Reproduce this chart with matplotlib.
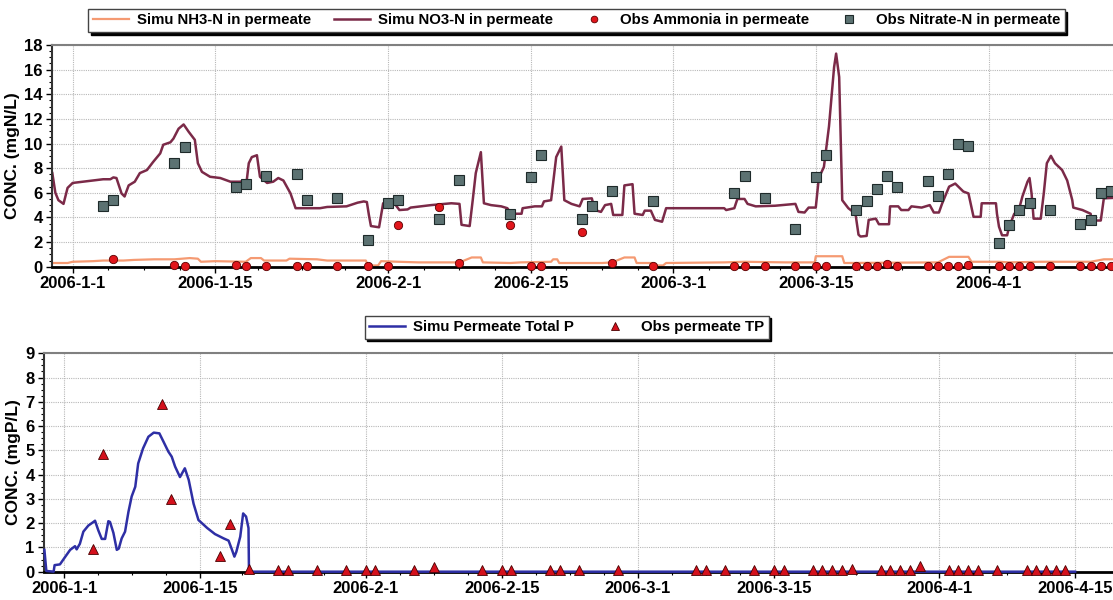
import numpy as np
import matplotlib
matplotlib.use("Agg")
import matplotlib.pyplot as plt
import matplotlib.dates as mdates
from matplotlib.ticker import FixedLocator, FuncFormatter, MultipleLocator

plt.rcParams["font.family"] = ["Liberation Sans", "DejaVu Sans"]
plt.rcParams["font.weight"] = "bold"

# day offsets are counted from 2006-01-01
START = np.datetime64("2006-01-01")

# --- top panel: nitrogen ---
no3_days = [-2.0, -1.7, -1.4, -0.9, -0.5, 0.0, 1.0, 2.0, 3.0, 3.7, 4.0, 4.3, 4.8, 5.1, 5.5, 6.1,
            6.6, 7.3, 7.9, 8.6, 8.9, 9.6, 9.9, 10.4, 10.9, 11.4, 12.0, 12.3, 12.7, 13.5, 14.5,
            15.5, 16.4, 17.1, 17.3, 17.6, 18.1, 18.4, 19.1, 19.7, 20.2, 20.7, 21.4, 21.9, 24.3,
            25.0, 26.9, 28.0, 28.6, 28.9, 29.1, 29.3, 30.1, 30.5, 31.3, 31.6, 32.1, 32.9, 33.2,
            35.2, 37.2, 38.0, 38.2, 39.0, 39.3, 39.6, 40.1, 40.4, 41.1, 42.1, 42.7, 43.1, 44.1,
            44.2, 45.4, 46.1, 46.3, 47.0, 47.5, 48.0, 48.3, 49.0, 49.8, 50.1, 51.0, 51.3, 51.9,
            52.3, 52.9, 53.1, 54.0, 54.2, 55.0, 55.2, 56.0, 56.2, 56.8, 57.2, 57.9, 58.3, 64.0,
            64.2, 65.0, 65.3, 66.0, 66.3, 67.1, 69.0, 71.0, 71.3, 71.9, 72.3, 73.0, 73.3, 73.8,
            74.3, 74.8, 75.0, 75.3, 75.6, 76.2, 76.9, 77.2, 77.4, 78.0, 78.2, 78.9, 79.2, 80.2,
            80.3, 81.1, 81.4, 82.1, 82.4, 83.4, 84.2, 84.6, 85.1, 85.4, 86.1, 86.7, 87.2, 87.5,
            88.0, 88.5, 89.2, 89.3, 90.7, 90.8, 91.0, 91.3, 91.8, 92.0, 92.5, 92.9, 93.3, 93.8,
            94.0, 94.2, 94.4, 95.1, 95.4, 95.7, 96.1, 96.5, 97.2, 97.7, 98.2, 98.3, 99.2, 100.0,
            100.1, 101.0, 101.3, 102.5, 103.0]
no3_vals = [7.6, 6.0, 5.4, 5.1, 6.4, 6.8, 6.9, 7.0, 7.1, 7.1, 7.25, 7.2, 5.95, 5.7, 6.6, 6.9,
            7.6, 7.85, 8.5, 9.2, 9.9, 10.1, 10.4, 11.2, 11.55, 10.95, 10.3, 8.4, 7.7, 7.3, 7.2,
            6.9, 6.9, 7.0, 8.4, 8.9, 9.05, 7.3, 6.8, 6.9, 7.2, 7.0, 5.95, 4.75, 4.75,
            4.85, 4.9, 5.2, 5.3, 5.25, 4.2, 3.3, 3.2, 5.15, 5.2, 5.15, 4.6, 4.65, 4.8,
            5.0, 5.15, 5.1, 3.4, 3.3, 5.4, 7.6, 9.3, 5.15, 5.0, 4.9, 4.75, 4.3, 4.3,
            4.75, 4.9, 4.9, 5.3, 5.4, 8.9, 9.75, 5.4, 5.1, 4.9, 5.5, 5.55, 4.6, 4.45,
            5.0, 5.1, 4.2, 4.2, 6.6, 6.7, 4.3, 4.2, 4.55, 4.55, 3.8, 3.65, 4.75, 4.75,
            4.6, 4.75, 5.5, 5.5, 5.1, 4.9, 4.95, 5.1, 4.45, 4.4, 4.8, 4.8, 7.2, 8.1,
            11.4, 16.2, 17.3, 15.4, 5.4, 4.75, 4.3, 2.6, 2.45, 2.5, 3.8, 3.9, 3.45, 3.45,
            4.9, 4.9, 4.6, 4.6, 4.9, 4.8, 5.0, 4.4, 4.4, 5.1, 6.5, 6.75, 6.35, 6.1,
            5.95, 4.05, 4.05, 5.15, 5.15, 4.3, 3.25, 2.55, 2.55, 3.25, 4.3, 4.45, 5.7, 6.9,
            7.2, 5.95, 3.9, 3.9, 5.95, 8.4, 9.0, 8.4, 7.85, 7.0, 5.4, 4.8, 4.6, 4.3,
            3.75, 3.75, 5.55, 5.6, 5.6]

nh3_days = [-2.0, -0.5, 0.0, 2.0, 3.0, 5.0, 6.0, 8.0, 10.0, 11.5, 12.3, 12.6, 14.0, 17.0, 17.5,
            18.5, 18.8, 21.0, 21.3, 24.0, 25.0, 28.8, 29.0, 30.0, 30.3, 32.0, 34.0, 38.0, 39.2,
            40.1, 40.3, 43.0, 44.0, 47.0, 47.2, 47.6, 47.8, 52.0, 53.0, 54.2, 55.2, 55.4, 57.0,
            57.3, 58.0, 58.3, 64.0, 66.0, 70.0, 72.9, 73.0, 75.6, 75.8, 85.0, 86.1, 88.0, 88.3,
            91.0, 92.0, 95.0, 100.0, 101.3, 103.0]
nh3_vals = [0.3, 0.3, 0.4, 0.45, 0.5, 0.5, 0.55, 0.6, 0.6, 0.7, 0.65, 0.4, 0.45, 0.4, 0.7,
            0.7, 0.5, 0.5, 0.65, 0.6, 0.5, 0.5, 0.1, 0.1, 0.45, 0.4, 0.35, 0.35, 0.75,
            0.75, 0.35, 0.3, 0.35, 0.4, 0.6, 0.6, 0.3, 0.3, 0.35, 0.75, 0.75, 0.3, 0.3,
            0.1, 0.1, 0.3, 0.35, 0.4, 0.35, 0.35, 0.85, 0.85, 0.3, 0.35, 0.8, 0.8, 0.4,
            0.4, 0.35, 0.4, 0.4, 0.6, 0.6]

amm_days = [4, 10, 11, 16, 17, 19, 22, 23, 26, 29, 31, 32, 36, 38, 43, 45, 46, 50, 53, 57, 65,
            66, 68, 71, 73, 74, 77, 78, 79, 80, 81, 84, 85, 86, 87, 88, 91, 92, 93, 94, 96, 99,
            100, 101, 102]
amm_vals = [0.6, 0.1, 0.05, 0.1, 0.05, 0.05, 0.05, 0.05, 0.05, 0.05, 0.05, 3.4, 4.85, 0.3, 3.4,
            0.05, 0.05, 2.8, 0.3, 0.05, 0.05, 0.05, 0.05, 0.05, 0.05, 0.05, 0.05, 0.05, 0.05,
            0.2, 0.05, 0.05, 0.05, 0.05, 0.05, 0.15, 0.05, 0.05, 0.05, 0.05, 0.05, 0.05, 0.05,
            0.05, 0.05]

nit_days = [3, 4, 10, 11, 16, 17, 19, 22, 23, 26, 29, 31, 32, 36, 38, 43, 45, 46, 50, 51, 53, 57,
            65, 66, 68, 71, 73, 74, 77, 78, 79, 80, 81, 84, 85, 86, 87, 88, 91, 92, 93, 94, 96,
            99, 100, 101, 102]
nit_vals = [4.95, 5.45, 8.45, 9.7, 6.45, 6.75, 7.35, 7.5, 5.4, 5.55, 2.2, 5.15, 5.4, 3.9, 7.05,
            4.3, 7.25, 9.1, 3.9, 4.95, 6.15, 5.3, 5.95, 7.35, 5.55, 3.1, 7.25, 9.1, 4.6, 5.3,
            6.3, 7.35, 6.5, 6.95, 5.75, 7.5, 9.95, 9.8, 1.95, 3.35, 4.6, 5.2, 4.6, 3.5, 3.8,
            5.95, 6.15]

# --- bottom panel: phosphorus ---
tp_days = [-2.05, -1.85, -1.1, -1.0, -0.45, 0.07, 0.6, 1.1, 1.27, 1.6, 1.96, 2.47, 3.0, 3.16,
           3.5, 3.85, 4.2, 4.53, 4.7, 5.05, 5.4, 5.6, 5.9, 6.25, 6.6, 6.93, 7.3, 7.6, 8.1, 8.65,
           9.2, 9.78, 10.2, 10.7, 11.05, 11.4, 11.9, 12.4, 12.8, 13.3, 13.8, 14.7, 15.5, 16.4,
           16.9, 17.2, 17.5, 17.7, 18.1, 18.4, 18.7, 18.95, 19.0, 104.0]
tp_vals = [0.9, 0.03, 0.0, 0.27, 0.3, 0.6, 0.9, 1.05, 0.92, 1.15, 1.65, 1.9, 2.05, 2.1,
           1.7, 1.35, 1.35, 2.08, 2.05, 1.6, 0.9, 0.95, 1.37, 1.65, 2.47, 3.1, 3.5, 4.46, 5.08, 5.56,
           5.73, 5.7, 5.36, 4.95, 4.74, 4.33, 3.9, 4.26, 3.78, 2.8, 2.13, 1.8, 1.55, 1.37,
           1.28, 0.96, 0.62, 0.82, 1.44, 2.4, 2.27, 1.8, 0.0, 0.0]

tp_obs_days = [3, 4, 10, 11, 16, 17, 19, 22, 23, 26, 29, 31, 32, 36, 38, 43, 45, 46, 50, 51, 53,
               57, 65, 66, 68, 71, 73, 74, 77, 78, 79, 80, 81, 84, 85, 86, 87, 88, 91, 92, 93,
               94, 96, 99, 100, 101, 102, 103]
tp_obs_vals = [0.92, 4.85, 6.9, 2.98, 0.65, 1.96, 0.1, 0.06, 0.06, 0.06, 0.06, 0.06, 0.06, 0.06,
               0.2, 0.06, 0.06, 0.06, 0.06, 0.06, 0.06, 0.06, 0.06, 0.06, 0.06, 0.06, 0.06,
               0.06, 0.06, 0.06, 0.06, 0.06, 0.1, 0.06, 0.06, 0.06, 0.06, 0.25, 0.06, 0.06, 0.06,
               0.06, 0.06, 0.06, 0.06, 0.06, 0.06, 0.06]

top_ticks = ["2006-01-01", "2006-01-15", "2006-02-01", "2006-02-15", "2006-03-01",
             "2006-03-15", "2006-04-01"]
bottom_ticks = top_ticks + ["2006-04-15"]


def to_num(days):
    return mdates.date2num(START) + np.asarray(days, dtype=float)


def date_label(v, pos):
    d = mdates.num2date(v)
    return f"{d.year}-{d.month}-{d.day}"


def style_axes(ax, ticks, xlim_days, ymax, ystep, yminor, ylabel):
    major = mdates.date2num(np.array(ticks, dtype="datetime64[D]"))
    minor = []
    for a, b in zip(major[:-1], major[1:]):
        minor.extend(np.linspace(a, b, 5)[1:-1])
    ax.xaxis.set_major_locator(FixedLocator(major))
    ax.xaxis.set_minor_locator(FixedLocator(minor))
    ax.xaxis.set_major_formatter(FuncFormatter(date_label))
    ax.set_xlim(to_num(xlim_days))
    ax.set_ylim(0, ymax)
    ax.yaxis.set_major_locator(MultipleLocator(ystep))
    ax.yaxis.set_minor_locator(MultipleLocator(yminor))
    ax.grid(True, which="major", color="#b8b8b8", linestyle=(0, (1, 1)), linewidth=0.8)
    ax.set_axisbelow(True)
    ax.tick_params(which="major", length=4, width=1, labelsize=12, pad=3)
    ax.tick_params(which="minor", length=2, width=0.8)
    for lab in ax.get_xticklabels() + ax.get_yticklabels():
        lab.set_fontweight("bold")
    ax.spines["right"].set_visible(False)
    ax.spines["top"].set_color("#808080")
    ax.spines["top"].set_linewidth(1.5)
    ax.spines["left"].set_color("#333333")
    ax.spines["left"].set_linewidth(1.5)
    ax.spines["bottom"].set_color("black")
    ax.spines["bottom"].set_linewidth(2)
    ax.set_ylabel(ylabel, fontsize=12.5, fontweight="bold", labelpad=3)


fig = plt.figure(figsize=(11.13, 6.0), dpi=100)
ax1 = fig.add_axes([0.047, 0.5555, 0.953, 0.3695])
ax2 = fig.add_axes([0.0398, 0.0472, 0.9602, 0.364])

ax1.plot(to_num(nh3_days), nh3_vals, color="#f59a72", lw=1.6, label="Simu NH3-N in permeate")
ax1.plot(to_num(no3_days), no3_vals, color="#7b2a48", lw=1.8, label="Simu NO3-N in permeate")
ax1.plot(to_num(amm_days), amm_vals, "o", ms=6, color="#e1161c", mec="#5a0000", mew=0.6,
         label="Obs Ammonia in permeate", clip_on=False, zorder=4)
ax1.plot(to_num(nit_days), nit_vals, "s", ms=7, color="#5c7272", mec="#1e2a2a", mew=0.8,
         label="Obs Nitrate-N in permeate", zorder=4)
style_axes(ax1, top_ticks, (-2.0, 102.2), 18, 2, 0.5, "CONC. (mgN/L)")

ax2.plot(to_num(tp_days), tp_vals, color="#2e2fa5", lw=1.8, label="Simu Permeate Total P",
         clip_on=False, zorder=3)
ax2.plot(to_num(tp_obs_days), tp_obs_vals, "^", ms=7, color="#d4101c", mec="#4a0000", mew=0.6,
         label="Obs permeate TP", clip_on=False, zorder=4)
style_axes(ax2, bottom_ticks, (-2.06, 107.9), 9, 1, 0.25, "CONC. (mgP/L)")

shadow = {"color": "black", "alpha": 1}
leg_kw = dict(loc="center", frameon=True, fancybox=False, edgecolor="#444444", shadow=shadow,
              prop={"size": 10.8, "weight": "bold"}, handlelength=2.4, columnspacing=1.5,
              borderpad=0.3, handletextpad=0.55, markerscale=0.8)
fig.legend(*ax1.get_legend_handles_labels(), bbox_to_anchor=(0.518, 0.966), ncol=4, **leg_kw)
fig.legend(*ax2.get_legend_handles_labels(), bbox_to_anchor=(0.509, 0.455), ncol=2, **leg_kw)

fig.savefig("out.png", dpi=100)
